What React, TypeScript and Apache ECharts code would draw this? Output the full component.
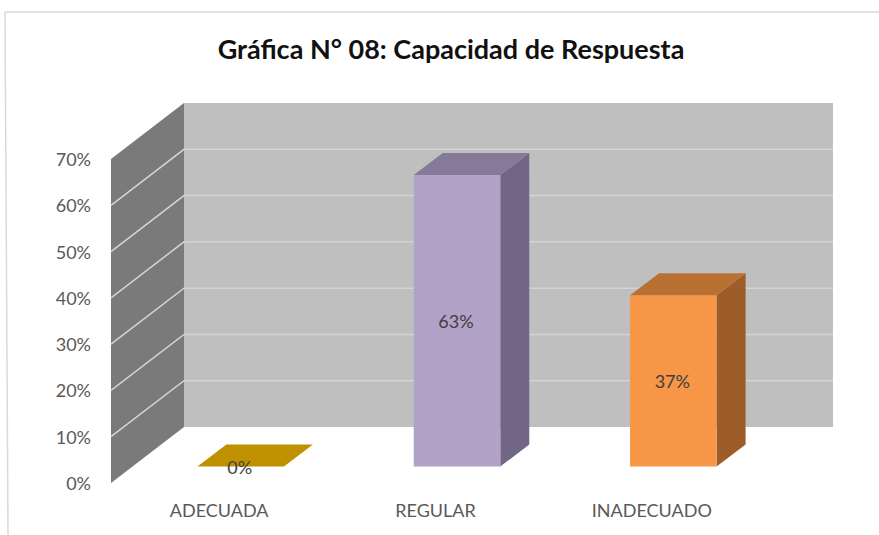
import React, { useEffect, useRef } from "react";
import * as echarts from "echarts";

const titleText = "Gráfica N° 08: Capacidad de Respuesta";
const categories = ["ADECUADA", "REGULAR", "INADECUADO"];
const values = [0, 63, 37];
const wallTicks = [10, 20, 30, 40, 50, 60];
const faceColors = ["#bf9000", "#b3a2c7", "#f79646"];
const topColors = ["#bf9000", "#857a97", "#b97133"];
const sideColors = ["#bf9000", "#716685", "#9c5d29"];

const WALL_DX = 73;
const WALL_DY = -56;
const BAR_DX = 21.5;
const BAR_DY = -16.5;
const DEPTH_DX = 29;
const DEPTH_DY = -22;
const FONT = "Lato, 'Open Sans', sans-serif";

function poly(points: number[][], fill: string, z2 = 0) {
  return { type: "polygon", z2, shape: { points }, style: { fill, stroke: "none" } };
}

export default function App() {
  const ref = useRef<HTMLDivElement>(null);
  useEffect(() => {
    document.body.style.margin = "0";
    const chart = echarts.init(ref.current!, undefined, { renderer: "svg" });
    chart.setOption({
      animation: false,
      backgroundColor: "#ffffff",
      title: {
        text: titleText,
        left: 446,
        top: 30,
        textAlign: "center",
        textStyle: { fontFamily: FONT, fontSize: 27, fontWeight: "bold", color: "#111111" },
      },
      graphic: [
        { type: "line", shape: { x1: 5, y1: 12, x2: 879, y2: 12 }, style: { stroke: "#d9d9d9", lineWidth: 1.5 } },
        { type: "line", shape: { x1: 5, y1: 12, x2: 8, y2: 535 }, style: { stroke: "#d9d9d9", lineWidth: 1.5 } },
      ],
      grid: { left: 111, top: 159, width: 649, height: 324 },
      xAxis: {
        type: "category",
        data: categories,
        axisLine: { show: false },
        axisTick: { show: false },
        axisLabel: { margin: 18, fontFamily: FONT, fontSize: 18, color: "#595959" },
      },
      yAxis: {
        type: "value",
        min: 0,
        max: 70,
        interval: 10,
        axisLine: { show: false },
        axisTick: { show: false },
        splitLine: { show: false },
        axisLabel: { margin: 20, fontFamily: FONT, fontSize: 18, color: "#595959", formatter: "{value}%" },
      },
      series: [
        {
          type: "custom",
          silent: true,
          clip: false,
          z: 1,
          data: [[0]],
          renderItem: (params: any, api: any) => {
            const { x, y, width, height } = params.coordSys;
            const l = x;
            const r = x + width;
            const b = y + height;
            const children: any[] = [
              poly([[l + WALL_DX, y + WALL_DY], [r + WALL_DX, y + WALL_DY], [r + WALL_DX, b + WALL_DY], [l + WALL_DX, b + WALL_DY]], "#bfbfbf"),
              poly([[l, y], [l + WALL_DX, y + WALL_DY], [l + WALL_DX, b + WALL_DY], [l, b]], "#7a7a7a"),
            ];
            wallTicks.forEach((t) => {
              const py = api.coord([0, t])[1];
              children.push({
                type: "polyline",
                z2: 1,
                shape: { points: [[l, py], [l + WALL_DX, py + WALL_DY], [r + WALL_DX, py + WALL_DY]] },
                style: { stroke: "#d4d4d4", lineWidth: 1.5, fill: "none" },
              });
            });
            return { type: "group", children };
          },
        },
        {
          type: "custom",
          silent: true,
          clip: false,
          z: 2,
          data: values.map((v, i) => [i, v]),
          encode: { x: 0, y: 1 },
          renderItem: (params: any, api: any) => {
            const i = api.value(0);
            const v = api.value(1);
            const top = api.coord([i, v]);
            const base = api.coord([i, 0]);
            const hw = (api.size([1, 0])[0] * 0.4) / 2;
            const xl = top[0] + BAR_DX - hw;
            const xr = top[0] + BAR_DX + hw;
            const yt = top[1] + BAR_DY;
            const yb = base[1] + BAR_DY;
            const children: any[] = [];
            if (v > 0) {
              children.push(
                poly([[xr, yt], [xr + DEPTH_DX, yt + DEPTH_DY], [xr + DEPTH_DX, yb + DEPTH_DY], [xr, yb]], sideColors[i]),
                poly([[xl, yt], [xr, yt], [xr, yb], [xl, yb]], faceColors[i])
              );
            }
            children.push(poly([[xl, yt], [xl + DEPTH_DX, yt + DEPTH_DY], [xr + DEPTH_DX, yt + DEPTH_DY], [xr, yt]], topColors[i]));
            children.push({
              type: "text",
              z2: 5,
              style: {
                x: (xl + xr) / 2 - 1,
                y: (yt + yb) / 2,
                text: `${v}%`,
                fill: "#404040",
                font: `18px ${FONT}`,
                textAlign: "center",
                textVerticalAlign: "middle",
              },
            });
            return { type: "group", children };
          },
        },
      ],
    });
    return () => chart.dispose();
  }, []);
  return <div ref={ref} style={{ position: "absolute", left: 0, top: 0, width: 879, height: 535 }} />;
}
